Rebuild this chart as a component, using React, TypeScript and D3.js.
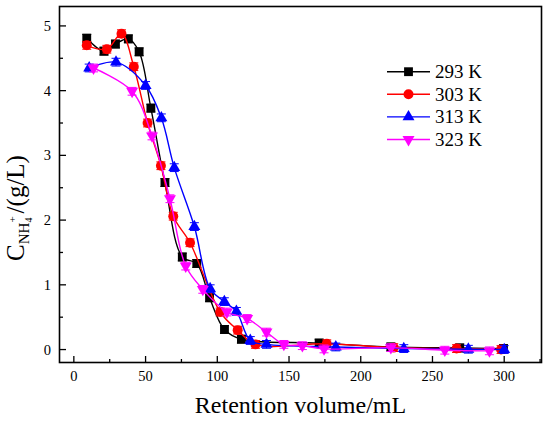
import React from "react";
import * as d3 from "d3";

const X_TICKS = [0, 50, 100, 150, 200, 250, 300];
const Y_TICKS = [0, 1, 2, 3, 4, 5];

const SERIES_NAMES = ["293 K", "303 K", "313 K", "323 K"];
const SERIES_COLORS = ["#000000", "#ff0000", "#0000ff", "#ff00ff"];
const SERIES_SYMBOLS = ["square", "circle", "triangle", "triangleDown"];

const X_293 = [9, 21, 29, 38, 45.5, 53.7, 63.5, 75.6, 85.7, 94.6, 105, 116.8, 171, 221, 269, 299.5];
const Y_293 = [4.81, 4.61, 4.72, 4.8, 4.6, 3.73, 2.58, 1.43, 1.33, 0.8, 0.31, 0.16, 0.1, 0.04, 0.025, 0.015];

const X_303 = [9, 23, 33.2, 41.8, 51.4, 60.7, 69.3, 81, 102, 114.2, 126.6, 176.3, 223, 266.8, 297.8];
const Y_303 = [4.7, 4.64, 4.88, 4.37, 3.5, 2.84, 2.06, 1.65, 0.58, 0.3, 0.08, 0.09, 0.03, 0.015, 0.0];

const X_313 = [10.7, 29.4, 50, 61, 70, 84, 95, 104.9, 113.3, 123, 134.3, 182.6, 230, 275, 300];
const Y_313 = [4.35, 4.44, 4.08, 3.58, 2.81, 1.9, 0.94, 0.74, 0.59, 0.14, 0.08, 0.04, 0.015, 0.005, 0.0];

const X_323 = [13.7, 40.6, 54.5, 67, 78, 89.9, 106.7, 120.8, 134.3, 146.4, 159.3, 174.4, 221, 258.6, 289.7];
const Y_323 = [4.35, 3.99, 3.3, 2.33, 1.29, 0.93, 0.58, 0.48, 0.27, 0.08, 0.06, 0.01, 0.03, -0.01, -0.02];

const ERROR = [0.06, 0.06, 0.06, 0.06];

const SERIES_X = [X_293, X_303, X_313, X_323];
const SERIES_Y = [Y_293, Y_303, Y_313, Y_323];

const W = 550;
const H = 422;
const LEFT = 59.5;
const RIGHT = 541.5;
const TOP = 6.5;
const BOTTOM = 362.5;

const FONT = "Liberation Serif, DejaVu Serif, serif";
const TS: React.CSSProperties = { fontFamily: FONT };

function symbolPath(kind: string): { d: string; rot: number } {
  if (kind === "square") return { d: d3.symbol(d3.symbolSquare, 78)() || "", rot: 0 };
  if (kind === "circle") return { d: d3.symbol(d3.symbolCircle, 78)() || "", rot: 0 };
  if (kind === "triangle") return { d: d3.symbol(d3.symbolTriangle, 62)() || "", rot: 0 };
  return { d: d3.symbol(d3.symbolTriangle, 62)() || "", rot: 180 };
}

export default function App() {
  const x = d3.scaleLinear().domain([-10, 326]).range([LEFT, RIGHT]);
  const y = d3.scaleLinear().domain([-0.2, 5.3]).range([BOTTOM, TOP]);

  const xMinor = d3.range(0, 326, 25).filter((v) => !X_TICKS.includes(v));
  const yMinor = d3.range(0, 5.3, 0.5).filter((v) => !Y_TICKS.includes(v));

  const line = d3
    .line<[number, number]>()
    .x((d) => x(d[0]))
    .y((d) => y(d[1]))
    .curve(d3.curveCatmullRom.alpha(0.5));

  const legendY0 = 71.7;
  const legendStep = 22.6;

  return (
    <svg
      width={W}
      height={H}
      style={{ position: "absolute", left: 0, top: 0, background: "#fff", fontFamily: FONT }}
    >
      <rect x={0} y={0} width={W} height={H} fill="#fff" />
      {SERIES_NAMES.map((name, si) => {
        const pts: [number, number][] = SERIES_X[si].map((xv, i) => [xv, SERIES_Y[si][i]]);
        const color = SERIES_COLORS[si];
        const sym = symbolPath(SERIES_SYMBOLS[si]);
        const e = ERROR[si];
        return (
          <g key={name}>
            <path d={line(pts) || ""} fill="none" stroke={color} strokeWidth={1.4} />
            {pts.map(([xv, yv], i) => (
              <g key={"e" + i} stroke={color} strokeWidth={1}>
                <line x1={x(xv)} x2={x(xv)} y1={y(yv - e)} y2={y(yv + e)} />
                <line x1={x(xv) - 4.5} x2={x(xv) + 4.5} y1={y(yv - e)} y2={y(yv - e)} />
                <line x1={x(xv) - 4.5} x2={x(xv) + 4.5} y1={y(yv + e)} y2={y(yv + e)} />
              </g>
            ))}
            {pts.map(([xv, yv], i) => (
              <path
                key={"m" + i}
                d={sym.d}
                fill={color}
                transform={`translate(${x(xv)},${y(yv)}) rotate(${sym.rot})`}
              />
            ))}
          </g>
        );
      })}

      <rect
        x={LEFT}
        y={TOP}
        width={RIGHT - LEFT}
        height={BOTTOM - TOP}
        fill="none"
        stroke="#000"
        strokeWidth={1.6}
      />

      {X_TICKS.map((v) => (
        <g key={"xt" + v}>
          <line x1={x(v)} x2={x(v)} y1={BOTTOM} y2={BOTTOM - 6.5} stroke="#000" strokeWidth={1.3} />
          <text x={x(v)} y={381} textAnchor="middle" fontSize={14.5} fill="#000" style={TS}>
            {v}
          </text>
        </g>
      ))}
      {xMinor.map((v) => (
        <line key={"xm" + v} x1={x(v)} x2={x(v)} y1={BOTTOM} y2={BOTTOM - 3.5} stroke="#000" strokeWidth={1.3} />
      ))}

      {Y_TICKS.map((v) => (
        <g key={"yt" + v}>
          <line x1={LEFT} x2={LEFT + 6.5} y1={y(v)} y2={y(v)} stroke="#000" strokeWidth={1.3} />
          <text x={51} y={y(v) + 5} textAnchor="end" fontSize={14.5} fill="#000" style={TS}>
            {v}
          </text>
        </g>
      ))}
      {yMinor.map((v) => (
        <line key={"ym" + v} x1={LEFT} x2={LEFT + 3.5} y1={y(v)} y2={y(v)} stroke="#000" strokeWidth={1.3} />
      ))}

      <text x={(LEFT + RIGHT) / 2} y={413} textAnchor="middle" fontSize={24} fill="#000" style={TS}>
        Retention volume/mL
      </text>
      <text transform="translate(24,208) rotate(-90)" textAnchor="middle" fontSize={25} fill="#000" style={TS}>
        C
        <tspan fontSize={15} dy={5}>
          NH
        </tspan>
        <tspan fontSize={10} dy={3}>
          4
        </tspan>
        <tspan fontSize={11} dy={-16} dx={-5}>
          +
        </tspan>
        <tspan fontSize={25} dy={8} dx={3}>
          /(g/L)
        </tspan>
      </text>

      {SERIES_NAMES.map((name, si) => {
        const ly = legendY0 + si * legendStep;
        const sym = symbolPath(SERIES_SYMBOLS[si]);
        return (
          <g key={"lg" + name}>
            <line x1={387} x2={430} y1={ly} y2={ly} stroke={SERIES_COLORS[si]} strokeWidth={1.4} />
            <path d={sym.d} fill={SERIES_COLORS[si]} transform={`translate(408.5,${ly}) rotate(${sym.rot})`} />
            <text x={435} y={ly + 6.5} fontSize={19} fill="#000" style={TS}>
              {name}
            </text>
          </g>
        );
      })}
    </svg>
  );
}
